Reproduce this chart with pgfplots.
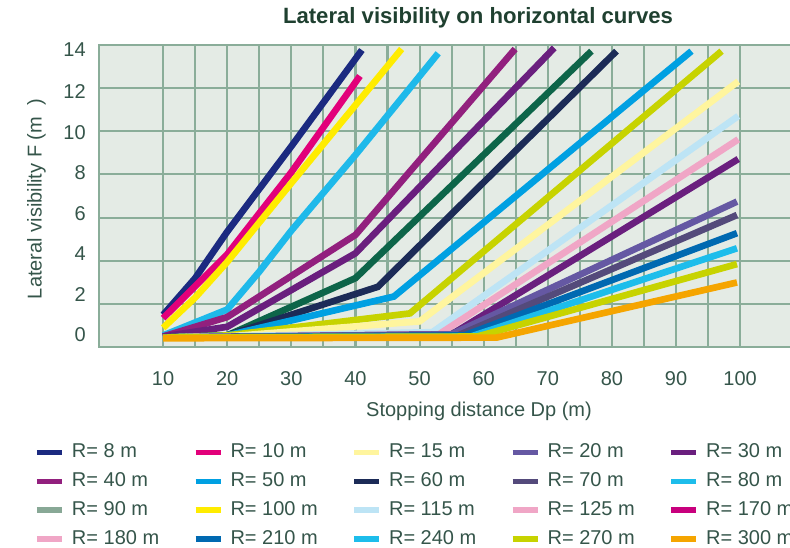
\documentclass[border=0pt]{standalone}
\usepackage{fontspec}
\setmainfont{Liberation Sans}
\usepackage{pgfplots}
\pgfplotsset{compat=1.18}

\definecolor{bgc}{HTML}{E4EBE5}
\definecolor{gridc}{HTML}{8AAD99}
\definecolor{txtc}{HTML}{35554A}
\definecolor{titc}{HTML}{1F4030}
% line colours
\definecolor{navy}{HTML}{1B2A80}
\definecolor{magenta}{HTML}{E2007A}
\definecolor{yel}{HTML}{FFEC00}
\definecolor{cyanA}{HTML}{1EB9EA}
\definecolor{plum}{HTML}{92207E}
\definecolor{purp}{HTML}{6A1F7E}
\definecolor{dgreen}{HTML}{0D6549}
\definecolor{dnavy}{HTML}{1C2B57}
\definecolor{blueA}{HTML}{00A0E2}
\definecolor{ygreen}{HTML}{C7D300}
\definecolor{pyel}{HTML}{FFF59E}
\definecolor{lblue}{HTML}{BDE4F5}
\definecolor{pink}{HTML}{F0A6C6}
\definecolor{lav}{HTML}{6558A3}
\definecolor{slate}{HTML}{544A7B}
\definecolor{blueB}{HTML}{0069B1}
\definecolor{cyanB}{HTML}{1DBDEB}
\definecolor{orng}{HTML}{F5A500}
\definecolor{ggreen}{HTML}{88A896}
\definecolor{rmag}{HTML}{C8007D}

\newcommand{\lent}[1]{\addlegendentry{\makebox[85pt][l]{#1}}}

\begin{document}
\begin{tikzpicture}
\begin{axis}[
  at={(0,0)}, anchor=south west,
  scale only axis, width=522pt, height=227pt,
  xmin=0, xmax=108.55, ymin=0, ymax=14,
  axis background/.style={fill=bgc},
  axis line style={gridc, line width=1.6pt},
  xtick={10,20,...,100}, minor xtick={15,25,...,95},
  ytick={0.57,2.45,4.35,6.2,8.1,9.95,11.83,13.76},
  yticklabels={0,2,4,6,8,10,12,14},
  minor ytick={2,4,...,12},
  xmajorgrids, xminorgrids, yminorgrids,
  grid style={gridc, line width=1.6pt},
  minor grid style={gridc, line width=1.6pt},
  major tick length=0pt, minor tick length=0pt,
  /pgf/number format/assume math mode=true,
  tick label style={font=\fontsize{15}{18}\selectfont, text=txtc},
  xticklabel style={anchor=base, yshift=-28.8pt},
  yticklabel style={anchor=east, inner sep=0pt, xshift=-9.75pt},
  title={Lateral visibility on horizontal curves},
  title style={font=\bfseries\fontsize{16.6}{20}\selectfont, text=titc,
    at={(axis description cs:0.5445,1.043)}, anchor=base},
  xlabel={Stopping distance Dp (m)},
  xlabel style={font=\fontsize{15}{18}\selectfont, text=txtc,
    at={(axis description cs:0.546,-0.2269)}, anchor=base},
  ylabel={Lateral visibility F (m\ \ )},
  ylabel style={font=\fontsize{15}{18}\selectfont, text=txtc,
    at={(axis description cs:-0.0823,0.49)}, anchor=base},
  legend columns=5,
  legend cell align=left,
  legend image code/.code={\draw[#1, line width=4.3pt, line cap=butt] (0pt,0pt) -- (18.75pt,0pt);},
  legend style={at={(axis description cs:-0.0932,-0.3165)}, anchor=north west,
    draw=none, fill=none, inner sep=0pt, outer sep=0pt,
    font=\fontsize{15}{18}\selectfont, text=txtc,
    nodes={inner sep=0pt, text height=11pt, text depth=3pt},
    row sep=7.7pt,
    /tikz/every odd column/.append style={column sep=5.35pt},
    /tikz/every even column/.append style={column sep=5.5pt}},
  every axis plot/.append style={line width=5pt, line cap=butt, forget plot},
]
% curves, steepest first
\addplot[navy]    coordinates {(10,1.5) (15,3.2) (20,5.35) (30,9.3) (41,13.75)};
\addplot[magenta] coordinates {(10,1.35) (20,4.3) (30,8.1) (40.7,12.55)};
\addplot[yel]     coordinates {(10,0.9) (15,2.3) (20,3.95) (30,7.6) (47.2,13.8)};
\addplot[cyanA]   coordinates {(10,0.55) (20,1.75) (25,3.5) (30,5.4) (40,8.9) (52.9,13.6)};
\addplot[plum]    coordinates {(10,0.5) (20,1.4) (40,5.2) (64.9,13.8)};
\addplot[purp]    coordinates {(10,0.5) (20,0.95) (40,4.35) (71,13.85)};
\addplot[dgreen]  coordinates {(10,0.45) (20,0.55) (40,3.2) (76.8,13.7)};
\addplot[dnavy]   coordinates {(10,0.45) (20,0.55) (43.5,2.8) (80.7,13.7)};
\addplot[blueA]   coordinates {(10,0.45) (20,0.55) (46,2.35) (92.4,13.7)};
\addplot[ygreen]  coordinates {(10,0.45) (20,0.55) (48.5,1.57) (97.1,13.7)};
\addplot[pyel]    coordinates {(10,0.45) (20,0.5) (50,1.2) (99.7,12.3)};
\addplot[lblue]   coordinates {(10,0.45) (52,0.7) (99.7,10.7)};
\addplot[pink]    coordinates {(10,0.45) (53,0.6) (99.7,9.62)};
\addplot[purp]    coordinates {(10,0.45) (55,0.6) (99.7,8.71)};
\addplot[lav]     coordinates {(10,0.45) (55,0.6) (99.5,6.74)};
\addplot[slate]   coordinates {(10,0.45) (56,0.55) (99.5,6.12)};
\addplot[blueB]   coordinates {(10,0.45) (57,0.55) (99.5,5.28)};
\addplot[cyanB]   coordinates {(10,0.45) (58,0.5) (99.5,4.58)};
\addplot[ygreen]  coordinates {(10,0.45) (59,0.5) (99.5,3.85)};
\addplot[orng]    coordinates {(10,0.42) (62,0.45) (99.5,3.0)};

% legend
\addlegendimage{navy}   \lent{R= 8 m}
\addlegendimage{magenta}\lent{R= 10 m}
\addlegendimage{pyel}   \lent{R= 15 m}
\addlegendimage{lav}    \lent{R= 20 m}
\addlegendimage{purp}   \lent{R= 30 m}
\addlegendimage{plum}   \lent{R= 40 m}
\addlegendimage{blueA}  \lent{R= 50 m}
\addlegendimage{dnavy}  \lent{R= 60 m}
\addlegendimage{slate}  \lent{R= 70 m}
\addlegendimage{cyanB}  \lent{R= 80 m}
\addlegendimage{ggreen} \lent{R= 90 m}
\addlegendimage{yel}    \lent{R= 100 m}
\addlegendimage{lblue}  \lent{R= 115 m}
\addlegendimage{pink}   \lent{R= 125 m}
\addlegendimage{rmag}   \lent{R= 170 m}
\addlegendimage{pink}   \lent{R= 180 m}
\addlegendimage{blueB}  \lent{R= 210 m}
\addlegendimage{cyanB}  \lent{R= 240 m}
\addlegendimage{ygreen} \lent{R= 270 m}
\addlegendimage{orng}   \lent{R= 300 m}
\end{axis}
\pgfresetboundingbox
\path[use as bounding box] (-74.25pt,-150.5pt) rectangle (518.25pt,260.5pt);
\end{tikzpicture}
\end{document}
